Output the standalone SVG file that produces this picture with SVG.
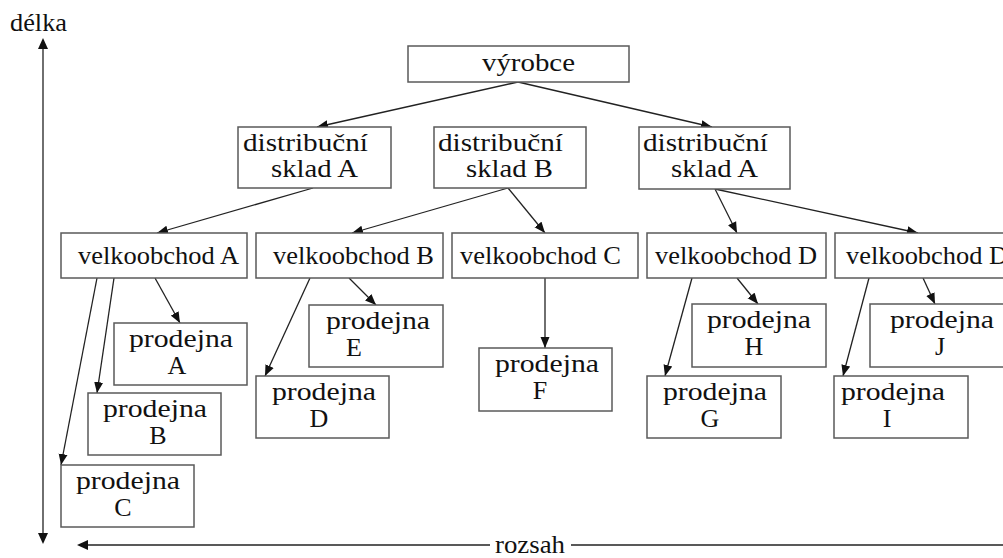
<svg xmlns="http://www.w3.org/2000/svg" width="1003" height="558" viewBox="0 0 1003 558">
  <style>
    .box { fill: #ffffff; stroke: #5a5a5a; stroke-width: 1.5; }
    .t { font-family: 'Liberation Serif', 'Times New Roman', Times, serif; font-size: 26px; fill: #111111; }
    .c { text-anchor: middle; }
    .edge { stroke: #222222; stroke-width: 1.3; fill: none; marker-end: url(#arr); }
    .axis { stroke: #222222; stroke-width: 1.3; fill: none; }
  </style>
  <defs>
    <marker id="arr" markerUnits="userSpaceOnUse" markerWidth="12" markerHeight="10" refX="11" refY="5" orient="auto">
      <path d="M0,0.5 L11,5 L0,9.5 Z" fill="#111111"/>
    </marker>
  </defs>
  <rect width="1003" height="558" fill="#ffffff"/>

  <!-- axes -->
  <g id="axes">
    <line class="axis" x1="43" y1="48" x2="43" y2="533"/>
    <path d="M43,38 L38,49 L48,49 Z" fill="#111111"/>
    <path d="M43,544 L38,533 L48,533 Z" fill="#111111"/>
    <line class="axis" x1="86" y1="545" x2="490" y2="545"/>
    <path d="M77,545 L88,540 L88,550 Z" fill="#111111"/>
    <line class="axis" x1="571" y1="545" x2="1003" y2="545"/>
    <text class="t" x="10" y="31" font-size="24" textLength="57" lengthAdjust="spacingAndGlyphs">délka</text>
    <text class="t" x="495" y="553" font-size="23" textLength="70" lengthAdjust="spacingAndGlyphs">rozsah</text>
  </g>

  <!-- connectors -->
  <g id="connectors">
    <line class="edge" x1="518" y1="82" x2="317" y2="127"/>
    <line class="edge" x1="518" y1="82" x2="712" y2="127"/>
    <line class="edge" x1="313" y1="188" x2="157" y2="233"/>
    <line class="edge" x1="508" y1="188" x2="352" y2="233"/>
    <line class="edge" x1="508" y1="188" x2="545" y2="233"/>
    <line class="edge" x1="715" y1="189" x2="737" y2="233"/>
    <line class="edge" x1="715" y1="189" x2="918" y2="233"/>
    <line class="edge" x1="97" y1="278" x2="61" y2="465"/>
    <line class="edge" x1="114" y1="278" x2="97" y2="393"/>
    <line class="edge" x1="155" y1="278" x2="180" y2="323"/>
    <line class="edge" x1="310" y1="278" x2="265" y2="376"/>
    <line class="edge" x1="349" y1="278" x2="376" y2="305"/>
    <line class="edge" x1="545" y1="278" x2="545" y2="348"/>
    <line class="edge" x1="692" y1="278" x2="665" y2="376"/>
    <line class="edge" x1="737" y1="278" x2="758" y2="304"/>
    <line class="edge" x1="869" y1="278" x2="843" y2="376"/>
    <line class="edge" x1="923" y1="278" x2="935" y2="304"/>
  </g>

  <!-- producer -->
  <g id="vyrobce">
    <rect class="box" x="408" y="46" width="221" height="36"/>
    <text class="t" x="482" y="71" textLength="93" lengthAdjust="spacingAndGlyphs">výrobce</text>
  </g>

  <!-- distribution warehouses -->
  <g id="sklad-a1">
    <rect class="box" x="238" y="127" width="153" height="61"/>
    <text class="t" x="243" y="151" textLength="125" lengthAdjust="spacingAndGlyphs">distribuční</text>
    <text class="t" x="271" y="177" textLength="87" lengthAdjust="spacingAndGlyphs">sklad A</text>
  </g>
  <g id="sklad-b">
    <rect class="box" x="434" y="127" width="152" height="61"/>
    <text class="t" x="438" y="151" textLength="125" lengthAdjust="spacingAndGlyphs">distribuční</text>
    <text class="t" x="466" y="177" textLength="87" lengthAdjust="spacingAndGlyphs">sklad B</text>
  </g>
  <g id="sklad-a2">
    <rect class="box" x="639" y="127" width="151" height="62"/>
    <text class="t" x="643" y="151" textLength="125" lengthAdjust="spacingAndGlyphs">distribuční</text>
    <text class="t" x="671" y="177" textLength="87" lengthAdjust="spacingAndGlyphs">sklad A</text>
  </g>

  <!-- wholesalers -->
  <g id="velkoobchod-a">
    <rect class="box" x="61" y="233" width="186" height="45"/>
    <text class="t" x="78" y="264" textLength="161" lengthAdjust="spacingAndGlyphs">velkoobchod A</text>
  </g>
  <g id="velkoobchod-b">
    <rect class="box" x="256" y="233" width="187" height="45"/>
    <text class="t" x="273" y="264" textLength="161" lengthAdjust="spacingAndGlyphs">velkoobchod B</text>
  </g>
  <g id="velkoobchod-c">
    <rect class="box" x="452" y="233" width="186" height="45"/>
    <text class="t" x="460" y="264" textLength="161" lengthAdjust="spacingAndGlyphs">velkoobchod C</text>
  </g>
  <g id="velkoobchod-d1">
    <rect class="box" x="647" y="233" width="179" height="45"/>
    <text class="t" x="655" y="264" textLength="162" lengthAdjust="spacingAndGlyphs">velkoobchod D</text>
  </g>
  <g id="velkoobchod-d2">
    <rect class="box" x="835" y="233" width="180" height="45"/>
    <text class="t" x="846" y="264" textLength="162" lengthAdjust="spacingAndGlyphs">velkoobchod D</text>
  </g>

  <!-- shops -->
  <g id="prodejna-a">
    <rect class="box" x="114" y="323" width="133" height="62"/>
    <text class="t" x="129" y="347" textLength="104" lengthAdjust="spacingAndGlyphs">prodejna</text>
    <text class="t c" x="177" y="374">A</text>
  </g>
  <g id="prodejna-b">
    <rect class="box" x="88" y="393" width="133" height="62"/>
    <text class="t" x="103" y="417" textLength="104" lengthAdjust="spacingAndGlyphs">prodejna</text>
    <text class="t c" x="158" y="444">B</text>
  </g>
  <g id="prodejna-c">
    <rect class="box" x="61" y="465" width="133" height="62"/>
    <text class="t" x="76" y="489" textLength="104" lengthAdjust="spacingAndGlyphs">prodejna</text>
    <text class="t c" x="123" y="516">C</text>
  </g>
  <g id="prodejna-d">
    <rect class="box" x="256" y="376" width="133" height="62"/>
    <text class="t" x="272" y="400" textLength="104" lengthAdjust="spacingAndGlyphs">prodejna</text>
    <text class="t c" x="319" y="427">D</text>
  </g>
  <g id="prodejna-e">
    <rect class="box" x="309" y="305" width="134" height="62"/>
    <text class="t" x="326" y="329" textLength="104" lengthAdjust="spacingAndGlyphs">prodejna</text>
    <text class="t c" x="354" y="356">E</text>
  </g>
  <g id="prodejna-f">
    <rect class="box" x="479" y="348" width="133" height="63"/>
    <text class="t" x="495" y="372" textLength="104" lengthAdjust="spacingAndGlyphs">prodejna</text>
    <text class="t c" x="540" y="399">F</text>
  </g>
  <g id="prodejna-g">
    <rect class="box" x="647" y="376" width="134" height="62"/>
    <text class="t" x="663" y="400" textLength="104" lengthAdjust="spacingAndGlyphs">prodejna</text>
    <text class="t c" x="710" y="427">G</text>
  </g>
  <g id="prodejna-h">
    <rect class="box" x="692" y="304" width="134" height="63"/>
    <text class="t" x="707" y="328" textLength="104" lengthAdjust="spacingAndGlyphs">prodejna</text>
    <text class="t c" x="754" y="355">H</text>
  </g>
  <g id="prodejna-i">
    <rect class="box" x="834" y="376" width="134" height="62"/>
    <text class="t" x="841" y="400" textLength="104" lengthAdjust="spacingAndGlyphs">prodejna</text>
    <text class="t c" x="887" y="427">I</text>
  </g>
  <g id="prodejna-j">
    <rect class="box" x="870" y="304" width="140" height="63"/>
    <text class="t" x="890" y="328" textLength="104" lengthAdjust="spacingAndGlyphs">prodejna</text>
    <text class="t c" x="940" y="355">J</text>
  </g>
</svg>
